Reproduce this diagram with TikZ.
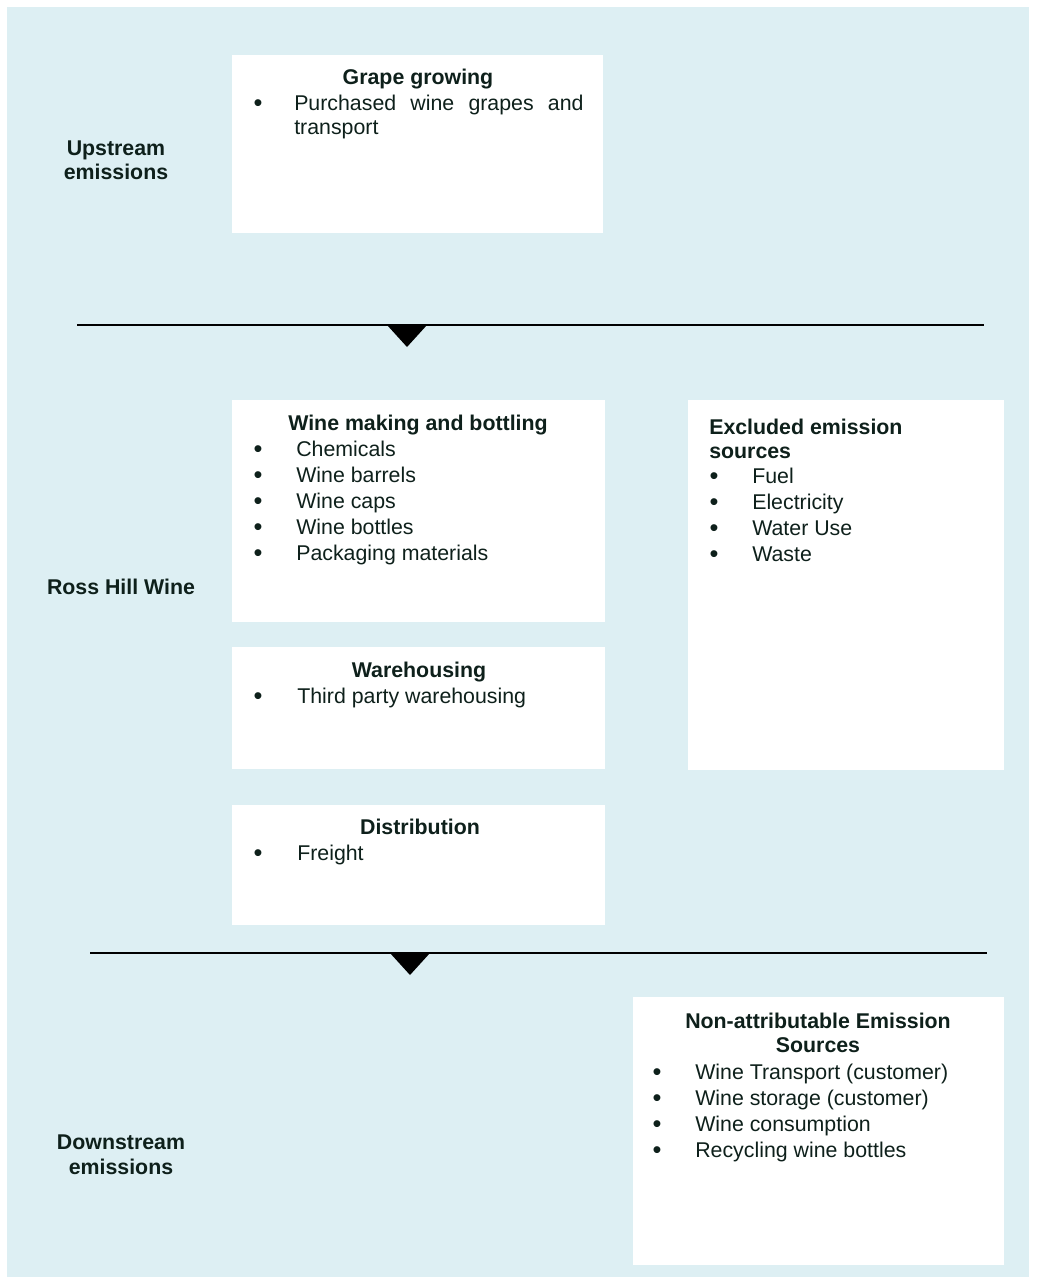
\documentclass[tikz,border=0pt]{standalone}
\usepackage{fontspec}
\setmainfont{Liberation Sans}

\definecolor{paleblue}{RGB}{221,239,243}
\definecolor{ink}{RGB}{14,32,27}

\tikzset{
  panel/.style={fill=white},
  head/.style={font=\fontsize{16}{19.5}\selectfont\bfseries,text=ink,inner sep=0pt,anchor=base},
  item/.style={font=\fontsize{16}{19.5}\selectfont,text=ink,inner sep=0pt,anchor=base west},
  dot/.style={font=\fontsize{19}{22}\selectfont,text=ink,inner sep=0pt,anchor=base},
  sepline/.style={line width=1.3pt,black}
}

\begin{document}
\begin{tikzpicture}[x=0.75pt,y=-0.75pt]
\useasboundingbox (0,0) rectangle (1041,1277);
\fill[white] (0,0) rectangle (1041,1277);
\fill[paleblue] (7,7) rectangle (1029,1278);

% white panels
\fill[panel] (232,55) rectangle (603,233);
\fill[panel] (232,400) rectangle (605,622);
\fill[panel] (232,647) rectangle (605,769);
\fill[panel] (232,805) rectangle (605,925);
\fill[panel] (688,400) rectangle (1004,770);
\fill[panel] (633,997) rectangle (1004,1265);

% stage labels on the left
\node[head] (up1) at (116,156) {Upstream};
\node[head] (up2) at (116,180) {emissions};
\node[head] (ross) at (121,594) {Ross Hill Wine};
\node[head] (down1) at (121,1149) {Downstream};
\node[head] (down2) at (121,1174) {emissions};

% grape growing
\node[head] (grape) at (418,85) {Grape growing};
\node[dot] (grapedot) at (258,112) {•};
\node[item] (grape1) at (294,111) {\hbox to 217pt{Purchased\hfill wine\hfill grapes\hfill and}};
\node[item] (grape2) at (294,135) {transport};

% wine making
\node[head] (making) at (418,430) {Wine making and bottling};
\foreach \txt [count=\i] in {Chemicals,Wine barrels,Wine caps,Wine bottles,Packaging materials}{
  \node[dot] (makingdot\i) at (258,431+26*\i) {•};
  \node[item] (making\i) at (296,430+26*\i) {\txt};
}

% warehousing
\node[head] (ware) at (419,677) {Warehousing};
\node[dot] (waredot) at (258,704) {•};
\node[item] (ware1) at (297,703) {Third party warehousing};

% distribution
\node[head] (distr) at (420,834) {Distribution};
\node[dot] (distrdot) at (258,861) {•};
\node[item] (distr1) at (297,860) {Freight};

% excluded sources
\node[head,anchor=base west] (excl1) at (709,434) {Excluded emission};
\node[head,anchor=base west] (excl2) at (709,458) {sources};
\foreach \txt [count=\i] in {Fuel,Electricity,Water Use,Waste}{
  \node[dot] (excldot\i) at (714,458+26*\i) {•};
  \node[item] (excl\i) at (752,457+26*\i) {\txt};
}

% non-attributable sources
\node[head] (nonattr1) at (818,1028) {Non-attributable Emission};
\node[head] (nonattr2) at (818,1052) {Sources};
\foreach \txt [count=\i] in {Wine Transport (customer),Wine storage (customer),Wine consumption,Recycling wine bottles}{
  \node[dot] (nondot\i) at (657,1054+26*\i) {•};
  \node[item] (non\i) at (695,1053+26*\i) {\txt};
}

% separators
\coordinate (topL) at (77,325);
\coordinate (topR) at (984,325);
\coordinate (topTip) at (407,347);
\draw[sepline] (topL) -- (topR);
\fill ([xshift=-15]topTip |- topL) -- ([xshift=15]topTip |- topL) -- (topTip) -- cycle;

\coordinate (botL) at (90,953);
\coordinate (botR) at (987,953);
\coordinate (botTip) at (410,975);
\draw[sepline] (botL) -- (botR);
\fill ([xshift=-15]botTip |- botL) -- ([xshift=15]botTip |- botL) -- (botTip) -- cycle;
\end{tikzpicture}
\end{document}
